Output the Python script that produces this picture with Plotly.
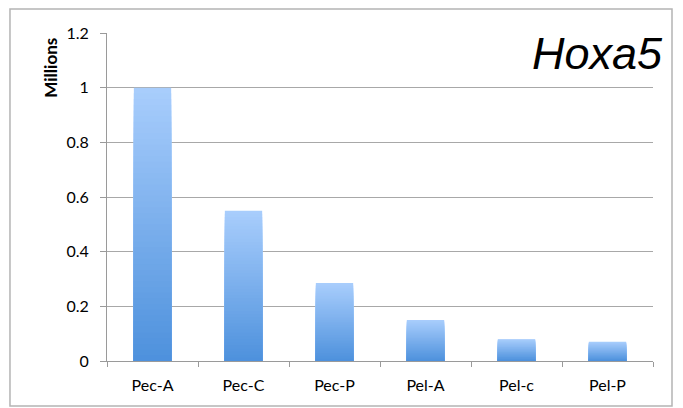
import plotly.graph_objects as go

# Expression of Hoxa5 per tissue sample (millions)
samples = ["Pec-A", "Pec-C", "Pec-P", "Pel-A", "Pel-c", "Pel-P"]
expression = [1.0, 0.55, 0.285, 0.15, 0.08, 0.07]
y_ticks = [0, 0.2, 0.4, 0.6, 0.8, 1.0, 1.2]

TOP_RGB = (168, 205, 252)
BOTTOM_RGB = (76, 144, 220)
STEPS = 48

fig = go.Figure()

# Vertical gradient: overlay progressively shorter, darker bars on each column
for k in range(STEPS, 0, -1):
    frac = k / STEPS
    r, g, b = (round(BOTTOM_RGB[i] + (TOP_RGB[i] - BOTTOM_RGB[i]) * frac) for i in range(3))
    fig.add_trace(go.Bar(
        x=samples,
        y=[v * frac for v in expression],
        width=0.41,
        marker=dict(color=f"rgb({r},{g},{b})", line=dict(width=0)),
        showlegend=False,
        hoverinfo="skip" if k != STEPS else None,
    ))

fig.update_layout(
    width=683,
    height=408,
    barmode="overlay",
    paper_bgcolor="white",
    plot_bgcolor="white",
    margin=dict(l=107, r=30, t=33, b=47),
    font=dict(family="Lato, 'Open Sans', sans-serif", size=16, color="black"),
    xaxis=dict(
        type="category",
        range=[-0.5, 5.5],
        tickson="boundaries",
        ticks="outside",
        ticklen=5,
        tickcolor="#9a9a9a",
        showline=True,
        linecolor="#9a9a9a",
        linewidth=1,
        showgrid=False,
        tickfont=dict(size=16),
        ticklabelstandoff=10,
    ),
    yaxis=dict(
        range=[0, 1.2],
        tickvals=y_ticks,
        ticks="outside",
        ticklen=6,
        tickcolor="#9a9a9a",
        showline=True,
        linecolor="#9a9a9a",
        linewidth=1,
        showgrid=True,
        gridcolor="#a8a8a8",
        gridwidth=1,
        zeroline=False,
        tickfont=dict(size=16),
        ticklabelstandoff=8,
    ),
    shapes=[
        dict(
            type="rect", xref="paper", yref="paper",
            x0=-0.1777, x1=1.0348, y0=-0.1372, y1=1.0732,
            line=dict(color="#b4b4b4", width=1.5),
            fillcolor="rgba(0,0,0,0)", layer="below",
        )
    ],
    annotations=[
        dict(
            text="Millions", xref="paper", yref="paper",
            x=-0.104, y=0.895, textangle=-90,
            showarrow=False, xanchor="center", yanchor="middle",
            font=dict(size=17, family="Lato, 'Open Sans', sans-serif", weight="bold"),
        ),
        dict(
            text="<i>Hoxa5</i>", xref="paper", yref="paper",
            x=1.022, y=0.939, showarrow=False,
            xanchor="right", yanchor="middle",
            font=dict(size=45, family="'Liberation Sans', Arial, sans-serif", color="black"),
        ),
    ],
)

fig.write_html("out.html")
